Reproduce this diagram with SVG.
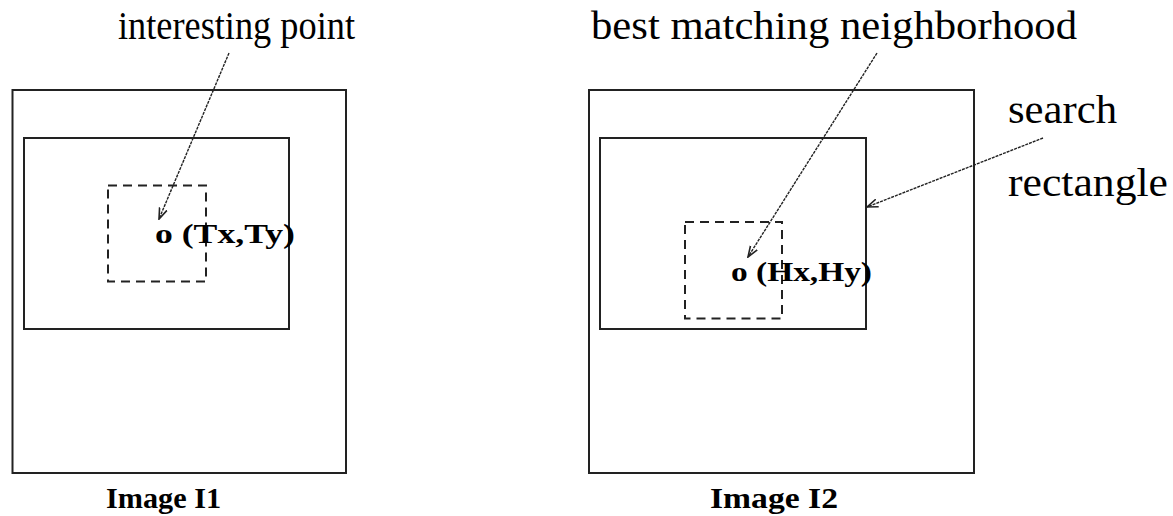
<svg xmlns="http://www.w3.org/2000/svg" width="1173" height="516" viewBox="0 0 1173 516">
<style>
.box{fill:none;stroke:#222;stroke-width:2}
.dash{fill:none;stroke:#222;stroke-width:2;stroke-dasharray:9 6}
.lbl{font-family:'Liberation Serif','Times New Roman',serif;font-size:39px;fill:#000}
.pt{font-family:'Liberation Serif','Times New Roman',serif;font-size:27px;font-weight:bold;fill:#000}
.cap{font-family:'Liberation Serif','Times New Roman',serif;font-size:30px;font-weight:bold;fill:#000}
.conn{fill:none;stroke:#222;stroke-width:1.4;stroke-dasharray:3 1}
</style>
<defs>
<marker id="ah" viewBox="0 0 12 10" refX="11" refY="5" markerWidth="12" markerHeight="10" markerUnits="userSpaceOnUse" orient="auto">
<path d="M0,1 L11,5 L0,9" fill="none" stroke="#222" stroke-width="1.6"/>
</marker>
</defs>
<rect width="1173" height="516" fill="#fff"/>
<g id="image1">
<rect class="box" x="12.5" y="90" width="333.5" height="383"/>
<text class="cap" x="106" y="508" textLength="115" lengthAdjust="spacingAndGlyphs">Image  I1</text>
</g>
<g id="window1">
<rect class="box" x="24" y="138" width="265" height="191"/>
</g>
<g id="neigh1">
<rect class="dash" x="108" y="185.5" width="98" height="96"/>
<text class="pt" x="155" y="243" textLength="140" lengthAdjust="spacingAndGlyphs">o (Tx,Ty)</text>
</g>
<g id="image2">
<rect class="box" x="589" y="90" width="385" height="383"/>
<text class="cap" x="710" y="508" textLength="128" lengthAdjust="spacingAndGlyphs">Image I2</text>
</g>
<g id="window2">
<rect class="box" x="600" y="138" width="266" height="191"/>
</g>
<g id="neigh2">
<rect class="dash" x="685" y="222" width="97" height="96.5"/>
<text class="pt" x="731" y="281" textLength="141" lengthAdjust="spacingAndGlyphs">o (Hx,Hy)</text>
</g>
<g id="label-interesting">
<text class="lbl" x="118" y="39" textLength="237" lengthAdjust="spacingAndGlyphs">interesting point</text>
</g>
<g id="label-best">
<text class="lbl" x="591" y="39" textLength="486" lengthAdjust="spacingAndGlyphs">best matching neighborhood</text>
</g>
<g id="label-search">
<text class="lbl" x="1008" y="123" textLength="109" lengthAdjust="spacingAndGlyphs">search</text>
<text class="lbl" x="1008" y="196" textLength="160" lengthAdjust="spacingAndGlyphs">rectangle</text>
</g>
<g id="connectors">
<line class="conn" x1="229" y1="53" x2="159" y2="219" marker-end="url(#ah)"/>
<line class="conn" x1="877" y1="53" x2="748" y2="257" marker-end="url(#ah)"/>
<line class="conn" x1="1043" y1="138" x2="867" y2="207" marker-end="url(#ah)"/>
</g>
</svg>
